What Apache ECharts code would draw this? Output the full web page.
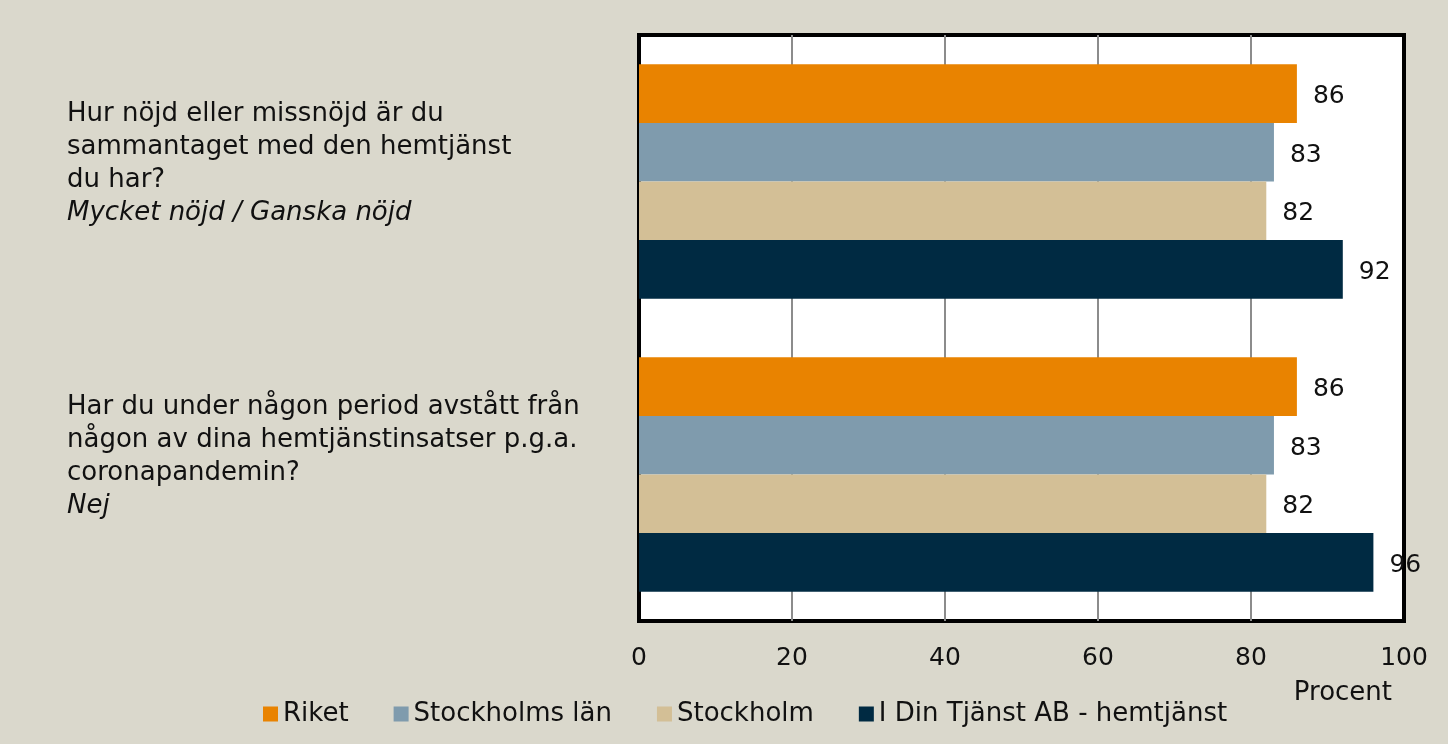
<!DOCTYPE html>
<html>
<head>
<meta charset="utf-8">
<script src="https://cdn.jsdelivr.net/npm/echarts@6/dist/echarts.min.js"></script>
<style>
  html, body { margin: 0; padding: 0; background: #dad8cc; }
  #chart { width: 1448px; height: 744px; }
</style>
</head>
<body>
<div id="chart"></div>
<script>
// questions (y axis categories) and the answer shown in italics below each
var questions = [
  'Hur nöjd eller missnöjd är du\nsammantaget med den hemtjänst\ndu har?',
  'Har du under någon period avstått från\nnågon av dina hemtjänstinsatser p.g.a.\ncoronapandemin?'
]
var answers = ['Mycket nöjd / Ganska nöjd', 'Nej']

var seriesNames = ['Riket', 'Stockholms län', 'Stockholm', 'I Din Tjänst AB - hemtjänst']
var riket = [86, 86]
var stockholmsLan = [83, 83]
var stockholm = [82, 82]
var dinTjanst = [92, 96]

var xTicks = [0, 20, 40, 60, 80, 100]

var colors = ['#e98300', '#7f9bad', '#d3bf96', '#002a42']
var font = 'DejaVu Sans'

function barSeries (name, values, color) {
  return {
    name: name,
    type: 'bar',
    data: values,
    barGap: '0%',
    barCategoryGap: '20%',
    itemStyle: { color: color },
    label: {
      show: true,
      position: 'right',
      distance: 16,
      offset: [0, 3],
      fontFamily: font,
      fontSize: 25,
      color: '#111'
    }
  }
}

var chart = echarts.init(document.getElementById('chart'))
chart.setOption({
  animation: false,
  backgroundColor: '#dad8cc',
  textStyle: { fontFamily: font },
  grid: {
    show: true,
    left: 639,
    top: 35,
    right: 44,
    bottom: 123,
    backgroundColor: '#fff',
    borderColor: '#000',
    borderWidth: 4
  },
  legend: {
    left: 258,
    top: 696,
    icon: 'rect',
    itemWidth: 15,
    itemHeight: 15,
    itemGap: 45,
    textStyle: { fontFamily: font, fontSize: 26, color: '#111' },
    data: seriesNames
  },
  xAxis: {
    type: 'value',
    min: xTicks[0],
    max: xTicks[xTicks.length - 1],
    interval: 20,
    name: 'Procent',
    nameLocation: 'end',
    nameGap: -12,
    nameTextStyle: {
      fontFamily: font,
      fontSize: 26,
      color: '#111',
      align: 'right',
      verticalAlign: 'top',
      padding: [59, 0, 0, 0]
    },
    axisLine: { show: false },
    axisTick: { show: false },
    splitLine: {
      show: true,
      showMinLine: false,
      showMaxLine: false,
      lineStyle: { color: '#8c8c8c', width: 2 }
    },
    axisLabel: { margin: 25, fontSize: 25, color: '#111', fontFamily: font }
  },
  yAxis: {
    type: 'category',
    inverse: true,
    data: questions,
    axisLine: { show: false },
    axisTick: { show: false },
    axisLabel: {
      align: 'left',
      margin: 572,
      padding: [0, 0, 36, 0],
      formatter: function (value, idx) {
        return '{q|' + value + '}\n{a|' + answers[idx] + '}'
      },
      rich: {
        q: { fontFamily: font, fontSize: 26, lineHeight: 33, color: '#111' },
        a: { fontFamily: font, fontSize: 26, lineHeight: 33, color: '#111', fontStyle: 'italic' }
      }
    }
  },
  series: [
    barSeries(seriesNames[0], riket, colors[0]),
    barSeries(seriesNames[1], stockholmsLan, colors[1]),
    barSeries(seriesNames[2], stockholm, colors[2]),
    barSeries(seriesNames[3], dinTjanst, colors[3])
  ]
})
window.addEventListener('resize', function () {
  chart.resize()
})
</script>
</body>
</html>
